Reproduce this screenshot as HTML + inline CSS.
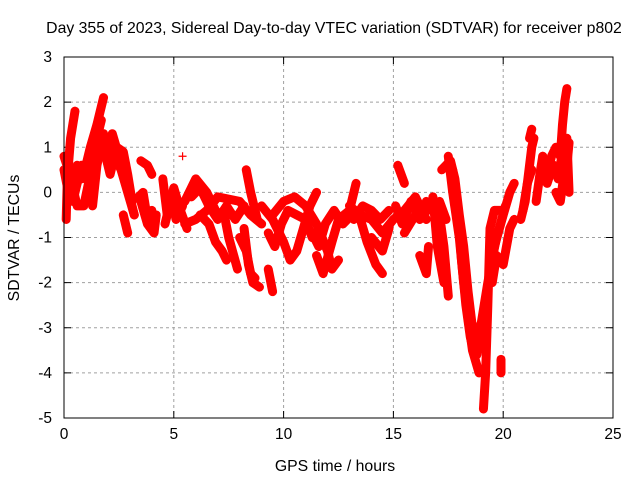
<!DOCTYPE html>
<html><head><meta charset="utf-8"><style>
body{margin:0;background:#fff}
svg{display:block;font-family:"Liberation Sans",sans-serif}
</style></head><body>
<svg id="c" width="640" height="480" viewBox="0 0 640 480">
<text x="334" y="33" text-anchor="middle" font-size="15.8">Day 355 of 2023, Sidereal Day-to-day VTEC variation (SDTVAR) for receiver p802</text>
<text x="335" y="471" text-anchor="middle" font-size="15.8">GPS time / hours</text>
<text transform="translate(19,238) rotate(-90)" text-anchor="middle" font-size="15.8">SDTVAR / TECUs</text>
<g id="grid"></g><g id="ticks"></g><g id="data"></g>
<rect x="64" y="57" width="549" height="361" fill="none" stroke="#000" stroke-width="1"/>
</svg>
<script>
const xTicks=[0,5,10,15,20,25];
const yTicks=[3,2,1,0,-1,-2,-3,-4,-5];
const tracks=[
[[0,0.8],[0.2,0.5],[0.4,0.3],[0.6,0.6],[0.8,0.3],[1.0,0.6],[1.2,1.0],[1.5,1.5],[1.8,2.1]],
[[0,0.5],[0.2,0.0],[0.4,-0.2],[0.6,0.2],[0.8,0.6],[1.0,0.3],[1.2,0.7],[1.5,1.2],[1.7,1.6]],
[[0.1,-0.6],[0.15,0.3],[0.3,1.2],[0.5,1.8]],
[[0.3,0.3],[0.6,-0.3],[0.9,-0.3],[1.2,0.4],[1.4,1.0]],
[[1.3,-0.3],[1.5,0.6],[1.8,1.3],[2.0,1.0],[2.3,0.8],[2.6,0.5],[2.9,0.0],[3.2,-0.5]],
[[1.6,1.0],[1.9,0.8],[2.1,0.4],[2.4,1.0],[2.7,0.9],[2.9,0.4],[3.1,-0.2]],
[[2.2,1.3],[2.5,0.8],[2.8,0.5],[3.0,-0.1],[3.2,-0.5]],
[[2.7,-0.5],[2.9,-0.9]],
[[3.5,0.7],[3.8,0.6],[4.0,0.4]],
[[3.4,-0.1],[3.6,0.0],[3.8,-0.6],[4.0,-0.4]],
[[3.5,-0.2],[3.8,-0.7],[4.1,-0.9],[4.2,-0.5]],
[[4.5,0.3],[4.7,-0.5],[4.9,-0.1],[5.1,-0.6],[5.4,-0.3]],
[[4.6,-0.7],[4.8,-0.3],[5.0,0.1],[5.3,-0.4],[5.6,-0.8]],
[[5.4,0.8]],
[[5.5,-0.2],[6,0.3],[6.5,0],[7,-0.5],[7.3,-0.5],[7.5,-1.0],[7.9,-1.7]],
[[5.5,-0.7],[6,-0.6],[6.5,-0.4],[7,-0.1],[8,-0.2],[8.5,-0.5],[9,-0.7]],
[[5.8,-0.1],[6.2,0.1],[6.6,-0.3],[7.0,-0.6],[7.4,-0.3],[7.8,-0.6],[8.2,-0.3]],
[[6.2,-0.5],[6.6,-0.7],[6.9,-1.1],[7.2,-1.3],[7.4,-1.5]],
[[8.2,-0.8],[8.4,-1.6],[8.6,-2.0],[8.9,-2.1]],
[[8.0,-1.0],[8.3,-1.3],[8.5,-1.8],[8.7,-1.9]],
[[8.3,0.5],[8.5,0],[8.8,-0.6]],
[[9.3,-1.7],[9.5,-2.2]],
[[9,-0.3],[9.5,-0.6],[10,-1.1],[10.3,-1.5],[10.6,-1.3],[10.9,-0.8],[11.2,-0.3],[11.5,0]],
[[9.5,-0.5],[10,-0.2],[10.5,-0.1],[11,-0.3],[11.5,-0.7],[12,-1.3],[12.2,-1.7],[12.5,-1.5]],
[[9.3,-0.9],[9.6,-1.2],[9.9,-0.7],[10.2,-0.4],[10.6,-0.5],[11.0,-0.6],[11.3,-1.0]],
[[11.5,-1.4],[11.8,-1.8],[12.2,-1.1],[12.5,-0.6],[13,-0.4],[13.3,0.2]],
[[11.3,-0.9],[11.6,-1.2],[11.9,-0.7],[12.3,-0.4],[12.7,-0.7],[13.1,-0.5]],
[[13,-0.3],[13.5,-0.5],[14,-0.6],[14.5,-0.9],[15,-0.6]],
[[13.2,-0.6],[13.6,-0.3],[14,-0.4],[14.4,-0.6],[14.8,-0.4]],
[[13.5,-0.6],[13.8,-1.1],[14.2,-1.6],[14.5,-1.8]],
[[14,-1.0],[14.5,-1.3],[14.8,-0.8]],
[[15.2,0.6],[15.5,0.2]],
[[15,-0.6],[15.5,-0.4],[16,-0.1],[16.3,-0.4],[16.5,-0.6]],
[[15.1,-0.3],[15.4,-0.7],[15.8,-0.2],[16.2,-0.6],[16.7,-0.3]],
[[15.5,-0.9],[16,-0.5],[16.4,-0.4]],
[[16.2,-1.4],[16.5,-1.8],[16.6,-1.2]],
[[16.5,-0.2],[16.8,-0.4],[17.1,-0.2],[17.4,-0.6]],
[[16.8,-0.1],[17,-1.2],[17.3,-2.0]],
[[17.1,-0.5],[17.3,-1.2],[17.5,-2.3]],
[[17.5,0.8],[17.7,0],[18,-1.0],[18.2,-2.0],[18.4,-2.8],[18.6,-3.5],[18.9,-4.0]],
[[17.2,0.5],[17.6,0.7],[17.8,0.3],[18,-0.5],[18.2,-1.2],[18.4,-2.2],[18.6,-3.0],[18.8,-3.2]],
[[17.7,0.5],[17.9,-0.2],[18.1,-1.5],[18.3,-2.5],[18.5,-3.2],[18.7,-3.6]],
[[18.6,-3.3],[19,-2.9],[19.3,-2.0],[19.6,-1.2],[20,-0.5],[20.3,0],[20.5,0.2]],
[[18.8,-3.6],[19.1,-3.0],[19.4,-1.7],[19.7,-1.0],[20.1,-0.3]],
[[19.1,-4.8],[19.2,-4.0],[19.3,-2.5],[19.4,-0.8],[19.6,-0.4],[19.9,-0.4]],
[[19.5,-2.0],[19.7,-1.4],[20.0,-1.6],[20.3,-0.8],[20.5,-0.6]],
[[19.9,-4.0],[19.9,-3.7]],
[[20.8,-0.6],[21.0,-0.2],[21.2,0.6],[21.3,1.0],[21.4,1.2]],
[[20.9,-0.4],[21.1,0.2],[21.3,0.5]],
[[21.3,1.4],[21.2,1.2]],
[[21.5,-0.2],[21.7,0.5],[21.8,0.8]],
[[21.8,0.5],[22,0.4],[22.2,0.8],[22.4,1.0],[22.6,0.8],[22.7,1.5],[22.8,2.0],[22.9,2.3]],
[[22.4,0],[22.6,-0.2],[22.8,0.5],[22.9,1.2],[23,0]],
[[22.3,0.6],[22.5,0.3],[22.7,0.9],[22.9,0.6],[23.0,1.1]],
[[21.8,0.8],[22.0,0.2],[22.2,0.5]]
];
const NS="http://www.w3.org/2000/svg";
const X0=64,X1=613,Y0=57,Y1=418;
function sx(t){return X0+(t-0)/25*(X1-X0);}
function sy(v){return Y0+(3-v)/8*(Y1-Y0);}
function mk(tag,attrs,parent){const e=document.createElementNS(NS,tag);for(const k in attrs)e.setAttribute(k,attrs[k]);parent.appendChild(e);return e;}
const grid=document.getElementById('grid'),ticks=document.getElementById('ticks'),data=document.getElementById('data');
xTicks.forEach(t=>{
 const x=sx(t);
 if(t>0&&t<25){const g=mk('line',{x1:x,y1:Y0,x2:x,y2:Y1,stroke:'#a0a0a0','stroke-dasharray':'3,3'},grid);
 
 }
 mk('line',{x1:x,y1:Y1,x2:x,y2:Y1-7,stroke:'#000'},ticks);
 mk('line',{x1:x,y1:Y0,x2:x,y2:Y0+7,stroke:'#000'},ticks);
 const l=mk('text',{x:x,y:Y1+21,'text-anchor':'middle','font-size':'15.5'},ticks);l.textContent=t;
 
 
});
yTicks.forEach(v=>{
 const y=sy(v);
 if(v<3&&v>-5){const g=mk('line',{x1:X0,y1:y,x2:X1,y2:y,stroke:'#a0a0a0','stroke-dasharray':'3,3'},grid);
 
 }
 mk('line',{x1:X0,y1:y,x2:X0+7,y2:y,stroke:'#000'},ticks);
 mk('line',{x1:X1,y1:y,x2:X1-7,y2:y,stroke:'#000'},ticks);
 const l=mk('text',{x:X0-12,y:y+5,'text-anchor':'end','font-size':'15.5'},ticks);l.textContent=v;
 
 
});
tracks.forEach(tr=>{
 const pts=tr.map(p=>sx(p[0])+','+sy(p[1])).join(' ');
 const pl=mk('polyline',{points:pts,fill:'none',stroke:'#ff0000','stroke-width':'9','stroke-linejoin':'round','stroke-linecap':'round'},data);
 
 
 tr.forEach(p=>{
  const x=sx(p[0]),y=sy(p[1]);
  const m=mk('path',{d:`M${x-4},${y}H${x+4}M${x},${y-4}V${y+4}`,stroke:'#ff0000','stroke-width':'1.2'},data);
  
  
 });
});
</script>
</body></html>
